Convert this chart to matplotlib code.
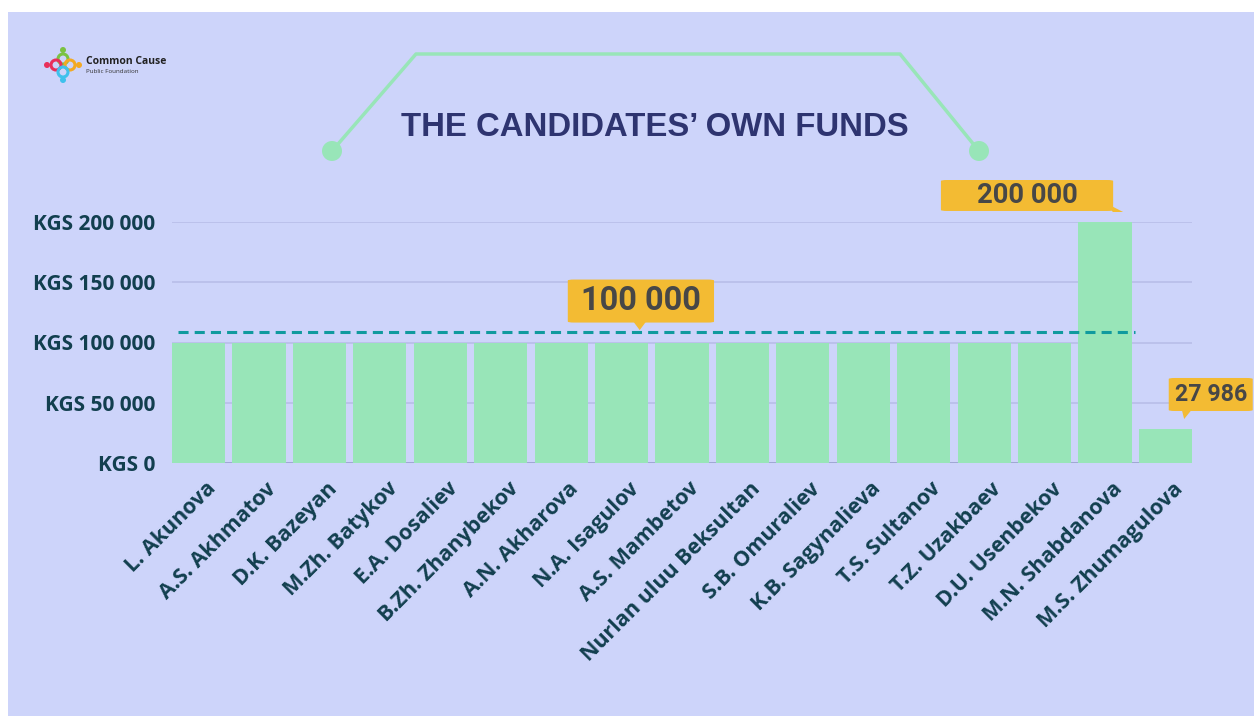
import numpy as np
import matplotlib.pyplot as plt
from matplotlib.patches import Rectangle, Circle, Polygon, FancyBboxPatch
from matplotlib.transforms import IdentityTransform, ScaledTranslation

# Candidates and their own funds (KGS)
candidates = ["L. Akunova", "A.S. Akhmatov", "D.K. Bazeyan", "M.Zh. Batykov",
              "E.A. Dosaliev", "B.Zh. Zhanybekov", "A.N. Akharova", "N.A. Isagulov",
              "A.S. Mambetov", "Nurlan uluu Beksultan", "S.B. Omuraliev",
              "K.B. Sagynalieva", "T.S. Sultanov", "T.Z. Uzakbaev", "D.U. Usenbekov",
              "M.N. Shabdanova", "M.S. Zhumagulova"]
funds = [100000, 100000, 100000, 100000, 100000, 100000, 100000, 100000,
         100000, 100000, 100000, 100000, 100000, 100000, 100000, 200000, 27986]
yticks = [0, 50000, 100000, 150000, 200000]
ref_level = 108500

bg = '#CDD4FA'
bar_col = '#98E5B8'
lab_col = '#123F4F'
call_col = '#F3BB33'
call_txt = '#474747'

W, H = 1254, 716
fig = plt.figure(figsize=(W / 100, H / 100), dpi=100)
fig.patch.set_facecolor('white')
fig.patches.append(Rectangle((8 / W, 0), 1, 1 - 12 / H, transform=fig.transFigure,
                             facecolor=bg, edgecolor='none', zorder=-10))

ax = fig.add_axes([172 / W, 1 - 463 / H, 1020 / W, 241 / H])
ax.set_facecolor('none')
x = np.arange(len(candidates))
ax.bar(x, funds, width=0.88, color=bar_col, zorder=2)
ax.set_xlim(-0.44, len(candidates) - 0.56)
ax.set_ylim(0, 200000)

for v in yticks[1:]:
    ax.axhline(v, color='#BAC0EA', lw=1.3, zorder=1)
ax.axhline(0, color='#9CA4CF', lw=1.3, zorder=1)

for s in ax.spines.values():
    s.set_visible(False)
ax.set_yticks(yticks)
ax.set_yticklabels(['KGS ' + f'{v:,}'.replace(',', ' ') for v in yticks],
                   fontfamily='Open Sans', fontweight='bold', fontsize=15, color=lab_col)
ax.tick_params(axis='y', length=0, pad=12)
ax.set_xticks(x)
ax.set_xticklabels(candidates, rotation=45, ha='right', rotation_mode='anchor',
                   fontfamily='Open Sans', fontweight='bold', fontsize=15.5, color=lab_col)
ax.tick_params(axis='x', length=0, pad=11)
for t in ax.get_xticklabels():
    t.set_transform(t.get_transform() + ScaledTranslation(0.07, 0, fig.dpi_scale_trans))

# dashed reference line
ax.plot([-0.34, 15.5], [ref_level, ref_level], color='#109A9E', lw=2.2,
        linestyle=(0, (3.3, 2)), zorder=3)

# callouts
def callout(xc, yc, w, h, text, size, tail):
    ax.add_patch(FancyBboxPatch(
        (xc - w / 2, yc - h / 2), w, h, boxstyle='round,pad=0,rounding_size=0.1',
        mutation_aspect=8000, facecolor=call_col, edgecolor='none', clip_on=False, zorder=5))
    ax.add_patch(Polygon(tail, closed=True, facecolor=call_col, edgecolor='none',
                         clip_on=False, zorder=5))
    ax.text(xc, yc, text, ha='center', va='center', fontsize=size, fontweight='bold',
            fontfamily='Roboto', color=call_txt, zorder=6, clip_on=False)

callout(7.32, 134400, 2.42, 35700, '100 000', 23.5,
        [(7.20, 117000), (7.40, 117000), (7.30, 110300)])
callout(13.71, 222000, 2.85, 25700, '200 000', 19.8,
        [(15.02, 215500), (15.13, 208300), (15.30, 208300)])
callout(16.75, 56850, 1.39, 27400, '27 986', 16.7,
        [(16.27, 44500), (16.44, 44500), (16.31, 36500)])

# title and bracket
fig.text(655 / W, 1 - 128 / H, 'THE CANDIDATES\u2019 OWN FUNDS', ha='center', va='center',
         fontsize=23.7, fontweight='bold', fontfamily='Liberation Sans', color='#2E3470')
px_t = IdentityTransform()
fig.add_artist(plt.Line2D([332, 416, 900, 979], [H - 151, H - 54, H - 54, H - 151],
                          color=bar_col, lw=2.5, transform=px_t))
for cx, cy in [(332, 151), (979, 151)]:
    fig.add_artist(Circle((cx, H - cy), 10, transform=px_t, facecolor=bar_col, edgecolor='none'))

# logo
for c, cx, cy in [('#7BC242', 63, 50), ('#E8305B', 47, 65), ('#F2A922', 79, 65), ('#3EC1EC', 63, 80)]:
    fig.add_artist(Circle((cx, H - cy), 3, transform=px_t, facecolor=c, edgecolor='none'))
for c, cx, cy in [('#7BC242', 63, 59), ('#E8305B', 56, 65), ('#F2A922', 70, 65), ('#3EC1EC', 63, 72)]:
    fig.add_artist(Circle((cx, H - cy), 5, transform=px_t, facecolor='none', edgecolor=c, lw=2.2))
fig.text(86 / W, 1 - 61 / H, 'Common Cause', fontsize=7.5, fontweight='bold',
         fontfamily='Open Sans', color='#222222', va='center')
fig.text(86 / W, 1 - 71.5 / H, 'Public Foundation', fontsize=4.5,
         fontfamily='Open Sans', color='#333333', va='center')

plt.savefig('out.png', dpi=100)
